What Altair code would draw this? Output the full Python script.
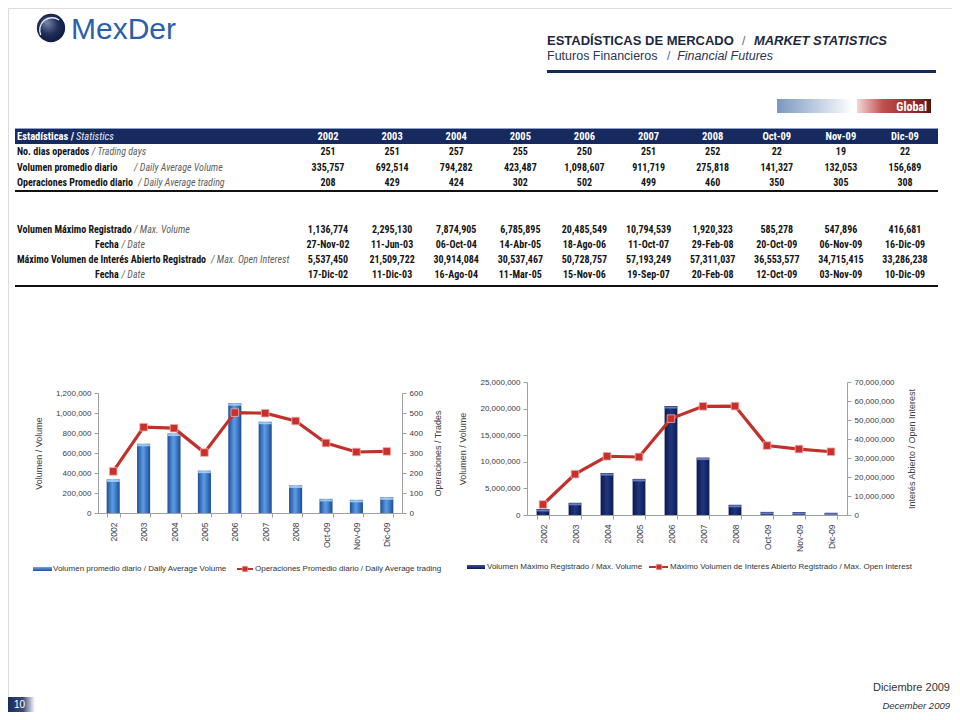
import altair as alt
import pandas as pd

# ---------------- data ----------------
categories = ["2002", "2003", "2004", "2005", "2006", "2007", "2008", "Oct-09", "Nov-09", "Dic-09"]
trading_days = [251, 251, 257, 255, 250, 251, 252, 22, 19, 22]
daily_avg_volume = [335757, 692514, 794282, 423487, 1098607, 911719, 275818, 141327, 132053, 156689]
daily_avg_trades = [208, 429, 424, 302, 502, 499, 460, 350, 305, 308]
max_volume = [1136774, 2295130, 7874905, 6785895, 20485549, 10794539, 1920323, 585278, 547896, 416681]
max_volume_date = ["27-Nov-02", "11-Jun-03", "06-Oct-04", "14-Abr-05", "18-Ago-06", "11-Oct-07",
                   "29-Feb-08", "20-Oct-09", "06-Nov-09", "16-Dic-09"]
max_open_interest = [5537450, 21509722, 30914084, 30537467, 50728757, 57193249, 57311037,
                     36553577, 34715415, 33286238]
max_oi_date = ["17-Dic-02", "11-Dic-03", "16-Ago-04", "11-Mar-05", "15-Nov-06", "19-Sep-07",
               "20-Feb-08", "12-Oct-09", "03-Nov-09", "10-Dic-09"]

row_labels_es = ["No. dias operados", "Volumen promedio diario", "Operaciones Promedio diario",
                 "Volumen Máximo Registrado", "Fecha", "Máximo Volumen de Interés Abierto Registrado", "Fecha"]
row_labels_en = ["/ Trading days", "/ Daily Average Volume", "/ Daily Average trading",
                 "/ Max. Volume", "/ Date", "/ Max. Open Interest", "/ Date"]

vol_ticks_1 = [0, 200000, 400000, 600000, 800000, 1000000, 1200000]
trade_ticks_1 = [0, 100, 200, 300, 400, 500, 600]
vol_ticks_2 = [0, 5000000, 10000000, 15000000, 20000000, 25000000]
oi_ticks_2 = [0, 10000000, 20000000, 30000000, 40000000, 50000000, 60000000, 70000000]

# ---------------- layout (not data) ----------------
W, H = 944, 704
NARROW = "Roboto Condensed, Noto Sans Condensed, DejaVu Sans Condensed, sans-serif"
SANS = "Liberation Sans, Arial, sans-serif"
ROW_POS = [1, 2.03, 3.02, 6.14, 7.1, 8.1, 9.08]
LABEL_X = [9, 9, 9, 9, 87, 9, 87]
EN_X = [83.7, 126, 130, 126, 113.5, 203, 113.5]

def grad(stops, x1=0, y1=0, x2=1, y2=0):
    return {"gradient": "linear", "x1": x1, "y1": y1, "x2": x2, "y2": y2,
            "stops": [{"offset": o, "color": c} for o, c in stops]}

one = pd.DataFrame({"k": [0]})

def txt(text, x, y, size=11, weight="normal", style="normal", color="#222", align="left", font=SANS):
    return alt.Chart(one).mark_text(text=text, align=align, baseline="middle", fontSize=size,
                                    fontWeight=weight, fontStyle=style, color=color, font=font
                                    ).encode(x=alt.value(x), y=alt.value(y))

def box(x, x2, y, y2, color):
    return alt.Chart(one).mark_rect(color=color).encode(
        x=alt.value(x), x2=alt.value(x2), y=alt.value(y), y2=alt.value(y2))

def hrule(x, x2, y, color, w):
    return alt.Chart(one).mark_rule(color=color, strokeWidth=w).encode(
        x=alt.value(x), x2=alt.value(x2), y=alt.value(y))

layers = []

# ---------------- logo ----------------
layers.append(alt.Chart(one).mark_circle(size=800, opacity=1,
              color={"gradient": "radial", "x1": 0.35, "y1": 0.3, "r1": 0.05, "x2": 0.5, "y2": 0.5, "r2": 0.6,
                     "stops": [{"offset": 0, "color": "#6f7f9f"}, {"offset": 0.5, "color": "#1f2f5a"},
                               {"offset": 1, "color": "#0a1535"}]}
              ).encode(x=alt.value(43), y=alt.value(20)))
layers.append(alt.Chart(one).mark_arc(radius=13, radius2=11.6, theta=4.3, theta2=6.9, color="#e8ecf4"
              ).encode(x=alt.value(44), y=alt.value(22)))
layers.append(txt("MexDer", 63, 22, size=30, color="#2b5fab"))

# ---------------- header ----------------
layers.append(txt("ESTADÍSTICAS DE MERCADO", 539, 32.5, size=13, weight="bold", color="#1c2840"))
layers.append(txt("/", 734, 32.5, size=12, color="#606878"))
layers.append(txt("MARKET STATISTICS", 879, 32.5, size=13, weight="bold", style="italic", color="#1c2840",
                  align="right"))
layers.append(txt("Futuros Financieros", 539, 47.5, size=12.5, color="#2b3550"))
layers.append(txt("/", 659, 47.5, size=12, color="#606878"))
layers.append(txt("Financial Futures", 765, 47.5, size=12.5, style="italic", color="#2b3550", align="right"))
layers.append(hrule(539, 928, 63.5, "#0f2d5a", 3))

# Global banner
layers.append(box(769, 845, 91, 105, grad([(0, "#7b97c0"), (1, "#ffffff")])))
layers.append(box(849, 923, 91, 105, grad([(0, "#f2d8d8"), (0.35, "#c0504d"), (0.85, "#8c2020"), (1, "#4a1a10")])))
layers.append(txt("Global", 919, 98.5, size=12, weight="bold", color="#ffffff", align="right", font=NARROW))

# ---------------- table ----------------
layers.append(box(7, 930, 120, 136, "#162a5f"))
layers.append(hrule(7, 930, 120.5, "#8fa0c8", 1))
layers.append(hrule(7, 930, 183, "#111111", 2))
layers.append(hrule(7, 930, 278, "#111111", 2))

ROW_SCALE = alt.Scale(domain=[0, 10], range=[128.5, 281.5])
COL_SCALE = alt.Scale(type="point", range=[320, 897], padding=0)

hdr_df = pd.DataFrame({"col": categories, "row": 0, "txt": categories})
layers.append(alt.Chart(hdr_df).mark_text(font=NARROW, fontSize=10.5, fontWeight="bold", color="#ffffff",
                                          baseline="middle").encode(
    x=alt.X("col:N", sort=categories, scale=COL_SCALE, axis=None),
    y=alt.Y("row:Q", scale=ROW_SCALE, axis=None), text="txt:N"))
layers.append(txt("Estadísticas /", 9, 128.5, size=10.5, weight="bold", color="#ffffff", font=NARROW))
layers.append(txt("Statistics", 68, 128.5, size=10.5, style="italic", color="#e8ecf8", font=NARROW))

body_rows = [
    [str(v) for v in trading_days],
    [f"{v:,}" for v in daily_avg_volume],
    [str(v) for v in daily_avg_trades],
    [f"{v:,}" for v in max_volume],
    max_volume_date,
    [f"{v:,}" for v in max_open_interest],
    max_oi_date,
]
cells = []
for r, vals in enumerate(body_rows):
    for c, v in zip(categories, vals):
        cells.append({"col": c, "row": ROW_POS[r], "txt": v})
cell_df = pd.DataFrame(cells)
layers.append(alt.Chart(cell_df).mark_text(font=NARROW, fontSize=10, fontWeight="bold", color="#141414",
                                           baseline="middle").encode(
    x=alt.X("col:N", sort=categories, scale=COL_SCALE, axis=None),
    y=alt.Y("row:Q", scale=ROW_SCALE, axis=None), text="txt:N"))

lab_df = pd.DataFrame({"row": ROW_POS, "es": row_labels_es, "en": row_labels_en,
                       "xs": LABEL_X, "xe": EN_X})
layers.append(alt.Chart(lab_df).mark_text(font=NARROW, fontSize=10, fontWeight="bold", color="#141414",
                                          align="left", baseline="middle").encode(
    x=alt.X("xs:Q", scale=None, axis=None),
    y=alt.Y("row:Q", scale=ROW_SCALE, axis=None), text="es:N"))
layers.append(alt.Chart(lab_df).mark_text(font=NARROW, fontSize=10, fontStyle="italic", color="#5f5f5f",
                                          align="left", baseline="middle").encode(
    x=alt.X("xe:Q", scale=None, axis=None),
    y=alt.Y("row:Q", scale=ROW_SCALE, axis=None), text="en:N"))

# ---------------- combo charts ----------------
AX = dict(labelFontSize=8, labelColor="#3a3a4a", labelFont=SANS, domainColor="#a0a0a0",
          tickColor="#a0a0a0", tickSize=4, grid=False, titleFontSize=9, titleFontWeight="normal",
          titleColor="#404040", titleFont=SANS)

def combo(bar_vals, line_vals, xr, yr, bar_dom, bar_ticks, line_dom, line_ticks,
          left_title, right_title, bar_color, cap_color, pad_inner, left_tp, right_tp):
    df = pd.DataFrame({"cat": categories, "bar": bar_vals, "line": line_vals})
    base = alt.Chart(df)
    band_scale = alt.Scale(type="band", range=xr, paddingInner=pad_inner, paddingOuter=pad_inner / 2)
    xband = alt.X("cat:N", sort=categories, scale=band_scale,
                  axis=alt.Axis(orient="bottom", offset=-(H - yr[0]), labelAngle=270, tickBand="extent",
                                title=None, labelPadding=5, **{**AX, "labelFontSize": 8.5}))
    xpt = alt.X("cat:N", sort=categories, scale=alt.Scale(type="point", range=xr, padding=0.5), axis=None)
    ybar = alt.Scale(domain=bar_dom, range=yr, nice=False, zero=True)
    bars = base.mark_bar(color=bar_color).encode(
        x=xband,
        y=alt.Y("bar:Q", scale=ybar,
                axis=alt.Axis(orient="left", offset=-xr[0], values=bar_ticks, format=",d",
                              title=left_title, titlePadding=left_tp, labelPadding=3, **AX)))
    step = (xr[1] - xr[0]) / len(categories)
    caps = base.mark_tick(orient="horizontal", thickness=2, size=step * (1 - pad_inner), color=cap_color,
                          yOffset=1.5, opacity=0.9).encode(
        x=alt.X("cat:N", sort=categories, scale=band_scale, axis=None),
        y=alt.Y("bar:Q", scale=ybar, axis=None))
    yline = alt.Scale(domain=line_dom, range=yr, nice=False, zero=True)
    line = base.mark_line(color="#c0312b", strokeWidth=3.2).encode(
        x=xpt,
        y=alt.Y("line:Q", scale=yline,
                axis=alt.Axis(orient="right", offset=-(W - xr[1]), values=line_ticks, format=",d",
                              title=right_title, titlePadding=right_tp, titleAngle=270,
                              labelPadding=3, **AX)))
    pts = base.mark_square(size=58, opacity=1, fill="#c9302c", stroke="#efb0b0", strokeWidth=0.8).encode(
        x=xpt, y=alt.Y("line:Q", scale=yline, axis=None))
    return [bars, caps, line, pts]

blue_bar = grad([(0, "#1f4f98"), (0.45, "#5b9be3"), (0.6, "#4d8ad6"), (1, "#1d4c93")])
navy_bar = grad([(0, "#0c1a52"), (0.5, "#20367f"), (1, "#0c1a52")])

layers += combo(daily_avg_volume, daily_avg_trades, [90, 394], [505, 385], [0, 1200000], vol_ticks_1,
                [0, 600], trade_ticks_1, "Volumen / Volume", "Operaciones / Trades", blue_bar, "#a6d0f6",
                0.57, 12, 20)
layers += combo(max_volume, max_open_interest, [519, 839], [507, 374], [0, 25000000], vol_ticks_2,
                [0, 70000000], oi_ticks_2, "Volumen / Volume", "Interés Abierto / Open Interest",
                navy_bar, "#7286c4", 0.6, 12, 22)

# ---------------- legends ----------------
layers.append(box(25, 44, 559, 563, grad([(0, "#6aa6ea"), (1, "#1f4f98")], 0, 0, 0, 1)))
layers.append(txt("Volumen promedio diario / Daily Average Volume", 45, 561, size=8, color="#333333"))
layers.append(hrule(229, 245, 561, "#c0312b", 2))
layers.append(alt.Chart(one).mark_square(size=30, opacity=1, fill="#c9302c", stroke="#efb0b0", strokeWidth=0.6
              ).encode(x=alt.value(237), y=alt.value(561)))
layers.append(txt("Operaciones Promedio diario / Daily Average trading", 247, 561, size=8, color="#333333"))

layers.append(box(459, 477, 557, 561, grad([(0, "#3a50a0"), (1, "#0c1a52")], 0, 0, 0, 1)))
layers.append(txt("Volumen Máximo Registrado / Max. Volume", 479, 559, size=8, color="#333333"))
layers.append(hrule(641, 660, 559, "#c0312b", 2))
layers.append(alt.Chart(one).mark_square(size=30, opacity=1, fill="#c9302c", stroke="#efb0b0", strokeWidth=0.6
              ).encode(x=alt.value(651), y=alt.value(559)))
layers.append(txt("Máximo Volumen de Interés Abierto Registrado / Max. Open Interest", 662, 559, size=8,
                  color="#333333"))

# ---------------- footer ----------------
layers.append(txt("Diciembre 2009", 942, 680, size=11, color="#333333", align="right"))
layers.append(txt("December 2009", 942, 698, size=9.5, style="italic", color="#333333", align="right"))
layers.append(box(0, 27, 689, 704, grad([(0, "#1a2a5a"), (0.55, "#3a4a78"), (1, "#ffffff")])))
layers.append(txt("10", 6, 697, size=10, color="#ffffff"))

chart = alt.layer(*layers).resolve_scale(
    x="independent", y="independent", color="independent"
).resolve_axis(x="independent", y="independent").properties(
    width=W, height=H, padding=0, autosize=alt.AutoSizeParams(type="none")
).configure_view(stroke=None).configure(font=SANS)

chart.save("out.html", embed_options={"renderer": "svg", "actions": False})
